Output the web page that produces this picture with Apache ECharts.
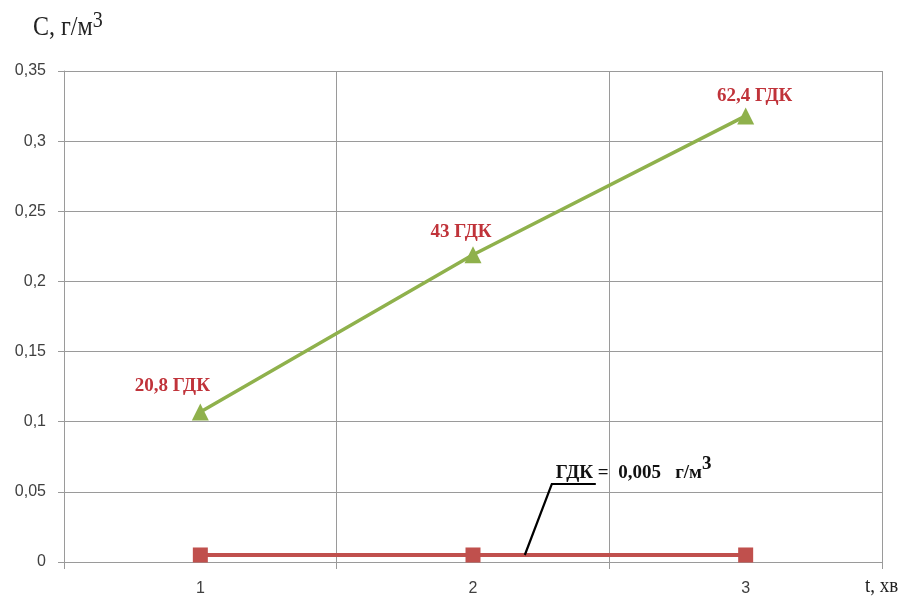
<!DOCTYPE html>
<html>
<head>
<meta charset="utf-8">
<script src="https://cdn.jsdelivr.net/npm/echarts@6/dist/echarts.min.js"></script>
<style>
  html, body { margin: 0; padding: 0; background: #fff; }
  #chart { width: 905px; height: 598px; }
</style>
</head>
<body>
<div id="chart"></div>
<script>
// Time steps (minutes)
const timeSteps = ['1', '2', '3'];
// Measured concentration, g/m3
const concentration = [0.107, 0.219, 0.318];
// Concentration expressed in multiples of the limit value
const concentrationLabels = ['20,8 ГДК', '43 ГДК', '62,4 ГДК'];
// Limit value (ГДК), g/m3
const limitValue = [0.005, 0.005, 0.005];
// Y axis range
const yMin = 0, yMax = 0.35, yStep = 0.05;

const serif = '"Liberation Serif", "DejaVu Serif", serif';
const sans = '"Liberation Sans", Arial, sans-serif';
const gridColor = '#9a9a9a';

// Nudges for the value labels so they sit clear of the line
const labelNudges = [[-28, -3], [-12, 0], [9, 3]];

const chart = echarts.init(document.getElementById('chart'), null, { renderer: 'canvas' });

const option = {
  animation: false,
  backgroundColor: '#fff',
  grid: { left: 64, right: 23, top: 71, bottom: 36 },
  xAxis: {
    type: 'category',
    data: timeSteps,
    boundaryGap: true,
    axisLine: { lineStyle: { color: gridColor, width: 1 } },
    axisTick: { show: true, length: 7, lineStyle: { color: gridColor } },
    axisLabel: { color: '#404040', fontFamily: sans, fontSize: 16, margin: 19 },
    splitLine: { show: true, lineStyle: { color: gridColor, width: 1 } }
  },
  yAxis: {
    type: 'value',
    min: yMin, max: yMax, interval: yStep,
    axisLine: { show: true, lineStyle: { color: gridColor, width: 1 } },
    axisTick: { show: true, length: 6, lineStyle: { color: gridColor } },
    axisLabel: {
      color: '#404040', fontFamily: sans, fontSize: 16, margin: 18,
      formatter: v => String(+v.toFixed(2)).replace('.', ',')
    },
    splitLine: { show: true, lineStyle: { color: gridColor, width: 1 } }
  },
  series: [
    {
      name: 'C',
      type: 'line',
      data: concentration.map((v, i) => ({
        value: v,
        label: { offset: labelNudges[i] }
      })),
      symbol: 'triangle',
      symbolSize: 17,
      itemStyle: { color: '#8fb14c' },
      lineStyle: { color: '#8fb14c', width: 3.5 },
      label: {
        show: true,
        position: 'top',
        color: '#c0333a',
        fontFamily: serif,
        fontWeight: 'bold',
        fontSize: 19,
        formatter: p => concentrationLabels[p.dataIndex]
      },
      z: 3
    },
    {
      name: 'ГДК',
      type: 'line',
      data: limitValue,
      symbol: 'rect',
      symbolSize: 15,
      itemStyle: { color: '#c0504d' },
      lineStyle: { color: '#c0504d', width: 4 },
      z: 2
    }
  ]
};

chart.setOption(option);

// Axis titles and the limit-value callout
function drawAnnotations() {
  const c2 = chart.convertToPixel({ xAxisIndex: 0 }, 1);
  const c3 = chart.convertToPixel({ xAxisIndex: 0 }, 2);
  const catW = c3 - c2;
  const yLimit = chart.convertToPixel({ yAxisIndex: 0 }, limitValue[1]);
  const footX = c2 + catW * 0.19;
  const kneeX = footX + 27, kneeY = yLimit - 71;

  chart.setOption({
    graphic: [
      {
        type: 'text', x: 33, y: 10, scaleY: 1.12,
        style: {
          text: '{b|С, г/м}{s|3}',
          rich: {
            b: { fontFamily: serif, fontSize: 24, fill: '#222', verticalAlign: 'bottom', lineHeight: 28 },
            s: { fontFamily: serif, fontSize: 20, fill: '#222', verticalAlign: 'top', lineHeight: 28, padding: [0, 0, 8, 0] }
          }
        }
      },
      {
        type: 'text', x: 865, y: 575, scaleY: 1.15,
        style: { text: 't, хв', font: '19px ' + serif, fill: '#222' }
      },
      {
        type: 'polyline', z: 10,
        shape: { points: [[footX, yLimit], [kneeX, kneeY], [kneeX + 44, kneeY]] },
        style: { stroke: '#000', lineWidth: 2.2, fill: null }
      },
      {
        type: 'text', z: 10, x: kneeX + 4, y: kneeY - 29,
        style: {
          text: '{b|ГДК =  0,005   г/м}{s|3}',
          rich: {
            b: { fontFamily: serif, fontWeight: 'bold', fontSize: 19, fill: '#111', verticalAlign: 'bottom', lineHeight: 28 },
            s: { fontFamily: serif, fontWeight: 'bold', fontSize: 19, fill: '#111', verticalAlign: 'top', lineHeight: 28, padding: [0, 0, 8, 0] }
          }
        }
      }
    ]
  });
}
drawAnnotations();
</script>
</body>
</html>
